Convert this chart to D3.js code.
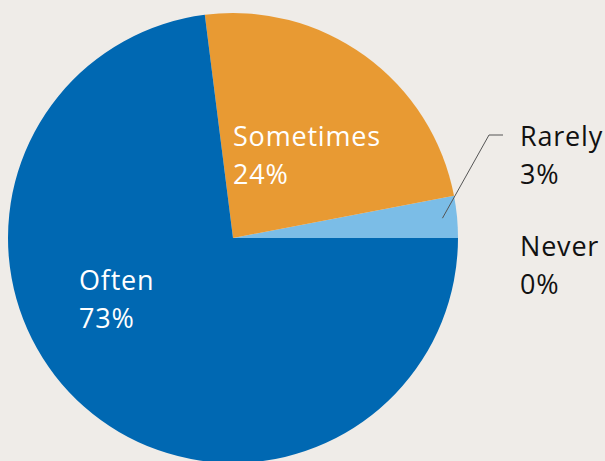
<!DOCTYPE html>
<html>
<head>
<meta charset="utf-8">
<script src="https://cdn.jsdelivr.net/npm/d3@7"></script>
<style>
  html, body { margin: 0; padding: 0; background: #efece8; }
  svg { display: block; }
  text { font-family: "Open Sans", "Noto Sans", sans-serif; font-size: 27px; letter-spacing: 0.8px; }
</style>
</head>
<body>
<div id="chart"></div>
<script>
// data
const categories = ["Rarely", "Sometimes", "Often", "Never"];
const values = [3, 24, 73, 0];
const colors = ["#7bbde7", "#e89a33", "#0068b2", "#999999"];

const width = 605, height = 461;
const cx = 233, cy = 238, radius = 225;

const svg = d3.select("#chart").append("svg")
    .attr("width", width)
    .attr("height", height);

const g = svg.append("g").attr("transform", "translate(" + cx + "," + cy + ")");

// start at 3 o'clock and go counter-clockwise
const pie = d3.pie().sort(null).value(d => d.value)
    .startAngle(Math.PI / 2)
    .endAngle(Math.PI / 2 - 2 * Math.PI);

const data = categories.map((c, i) => ({ name: c, value: values[i], color: colors[i] }));
const arcs = pie(data);

const arc = d3.arc().innerRadius(0).outerRadius(radius);

g.selectAll("path")
    .data(arcs.filter(d => d.data.value > 0))
    .enter()
    .append("path")
    .attr("d", arc)
    .attr("fill", d => d.data.color);

// labels: inside for big slices, outside for small ones
const labelPos = {
    "Sometimes": { x: 0, y: -92, fill: "#fff" },
    "Often": { x: -154, y: 52, fill: "#fff" },
    "Rarely": { x: 287, y: -92, fill: "#111" },
    "Never": { x: 287, y: 18, fill: "#111" }
};

arcs.forEach(d => {
    const p = labelPos[d.data.name];
    const t = g.append("text")
        .attr("x", p.x)
        .attr("y", p.y)
        .attr("fill", p.fill);
    t.append("tspan").attr("x", p.x).text(d.data.name);
    t.append("tspan").attr("x", p.x).attr("dy", 38).text(d.data.value + "%");
});

// leader line for Rarely
const rarely = arcs[0];
const mid = (rarely.startAngle + rarely.endAngle) / 2;
const r0 = radius * 0.935;
const p0 = [Math.sin(mid) * r0, -Math.cos(mid) * r0];
g.append("polyline")
    .attr("points", [p0, [256, -103], [270, -103]].map(p => p.join(",")).join(" "))
    .attr("fill", "none")
    .attr("stroke", "#555")
    .attr("stroke-width", 1);
</script>
</body>
</html>
